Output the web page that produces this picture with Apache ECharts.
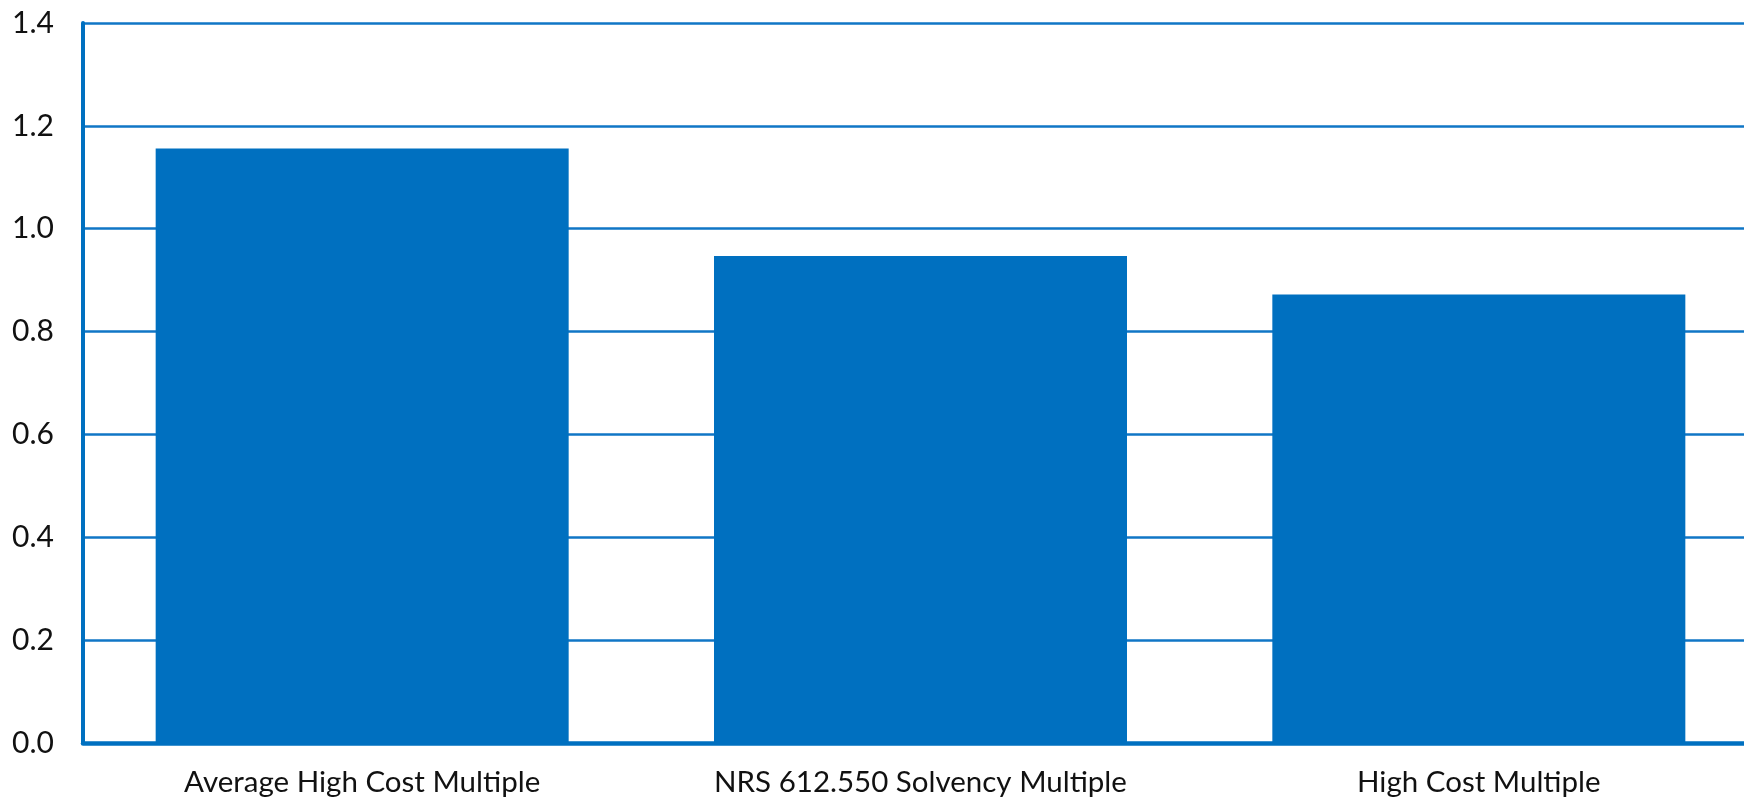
<!DOCTYPE html>
<html>
<head>
<meta charset="utf-8">
<script src="https://cdn.jsdelivr.net/npm/echarts@6/dist/echarts.min.js"></script>
<style>
html,body{margin:0;padding:0;background:#fff;overflow:hidden;}
#chart{width:1744px;height:797px;}
</style>
</head>
<body>
<div id="chart"></div>
<script>
const categories = ['Average High Cost Multiple', 'NRS 612.550 Solvency Multiple', 'High Cost Multiple'];
const values = [1.156, 0.947, 0.872];
const yTicks = [0.0, 0.2, 0.4, 0.6, 0.8, 1.0, 1.2, 1.4];

const chart = echarts.init(document.getElementById('chart'));
chart.setOption({
  animation: false,
  grid: { left: 83, top: 23, width: 1675, height: 720, containLabel: false, outerBoundsMode: 'none' },
  xAxis: {
    type: 'category',
    data: categories,
    axisLine: { show: true, lineStyle: { color: '#0070C0', width: 4.5 } },
    axisTick: { show: false },
    axisLabel: { color: '#111', fontFamily: 'Lato', fontSize: 29.5, margin: 24 },
    splitLine: { show: false }
  },
  yAxis: {
    type: 'value',
    min: yTicks[0],
    max: yTicks[yTicks.length - 1],
    interval: 0.2,
    axisLine: { show: true, lineStyle: { color: '#0070C0', width: 4 } },
    axisTick: { show: false },
    axisLabel: { color: '#111', fontFamily: 'Lato', fontSize: 30, margin: 29,
      formatter: v => v.toFixed(1) },
    splitLine: { show: true, lineStyle: { color: '#1076C6', width: 2.5 } }
  },
  series: [{
    type: 'bar',
    data: values,
    barWidth: 413,
    itemStyle: { color: '#0070C0' }
  }]
});
</script>
</body>
</html>
